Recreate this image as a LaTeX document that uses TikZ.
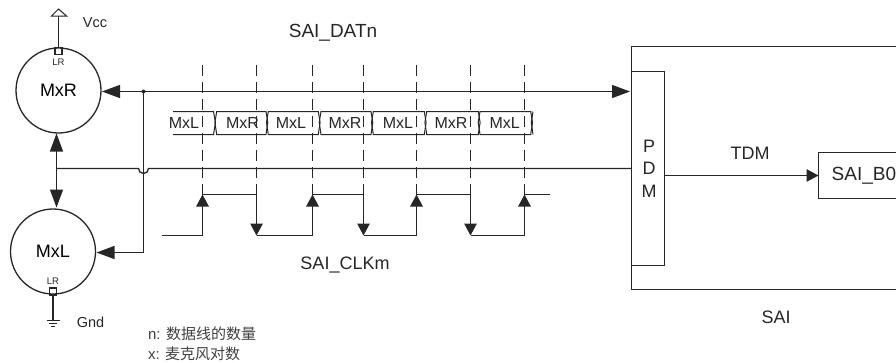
\documentclass[tikz,border=0pt]{standalone}
\usepackage{fontspec}
\setmainfont{Liberation Sans}
\newfontfamily\cjk{Noto Sans CJK SC}
\usetikzlibrary{arrows.meta}
\newcommand{\fs}[1]{\fontsize{#1}{#1}\selectfont}
\tikzset{
  x=1pt,y=-1pt,
  every node/.style={inner sep=0pt,outer sep=0pt},
  wire/.style={draw=black!85,line width=1.3pt},
  big/.style={-{Triangle[length=18pt,width=13pt]}},
  bigboth/.style={{Triangle[length=18pt,width=13pt]}-{Triangle[length=18pt,width=13pt]}},
  small/.style={-{Triangle[length=12pt,width=12.5pt]}},
  mic/.style={circle,draw=black!85,line width=1.3pt,minimum size=85pt,font=\fs{18}},
  pin/.style={rectangle,draw=black!85,line width=1.1pt,minimum width=7pt,minimum height=7pt},
  lbl/.style={font=\fs{18},text=black!85},
  lblw/.style={font=\fs{19},text=black!85},
  cell/.style={font=\fs{16},text=black!85},
  tiny/.style={font=\fs{9.5},text=black!85},
  pow/.style={font=\fs{14.5},text=black!85},
  note/.style={font=\fs{15},text=black!75,anchor=west},
  strobe/.style={draw=black!85,line width=1.3pt,dash pattern=on 11pt off 6pt},
}
\begin{document}
\begin{tikzpicture}
\useasboundingbox (0,0) rectangle (896,362);
% microphones
\node[mic] (mxr) at (58.5,90.5) {MxR};
\node[mic] (mxl) at (53,251.5) {MxL};
\node[pin] (pr) at (58.5,51) {};
\node[pin] (pl) at (53,291.5) {};
\node[tiny] (lrr) at (58.5,62) {LR};
\node[tiny] (lrl) at (53,281.5) {LR};
% Vcc and Gnd
\coordinate (vcc) at (58.5,16);
\draw[wire] (pr.north) -- (vcc);
\draw[wire,fill=white,line width=1pt] (51.5,16) -- (58.5,9) -- (66.5,16) -- cycle;
\node[pow] (vcct) at (95,23) {Vcc};
\coordinate (gnd) at (53,320);
\draw[wire] (pl.south) -- (gnd);
\draw[wire,line width=1pt] (46.5,320.5) -- (59.5,320.5) (49,323.5) -- (57,323.5) (51,326.5) -- (55,326.5);
\node[pow] (gndt) at (90.5,322) {Gnd};
% SAI
\draw[wire] (900,46.5) -- (631.5,46.5) -- (631.5,289.5) -- (900,289.5);
\node[rectangle,draw=black!85,line width=1.3pt,minimum width=33pt,minimum height=194pt,anchor=north west] (pdm) at (631.5,71.5) {};
\node[rectangle,draw=black!85,line width=1.3pt,minimum width=90pt,minimum height=46pt,anchor=west] (b0) at (818.5,175.5) {};
\node[lblw,anchor=west] (b0t) at (831.7,175.3) {SAI\_B0};
\node[lbl] (p1) at (649,146) {P};
\node[lbl] (p2) at (649,168.5) {D};
\node[lbl] (p3) at (649,191) {M};
\node[lbl] (tdm) at (750,153.5) {TDM};
\node[lbl] (sai) at (776,317) {SAI};
\node[lblw] (dat) at (333,32.5) {SAI\_DATn};
\node[lbl] (clk) at (345,265) {SAI\_CLKm};
\draw[wire,small] (pdm.east |- b0.west) -- (b0.west);
% data line
\coordinate (j) at (143.5,91.5);
\coordinate (pdmin) at (630,91.5);
\coordinate (mxrin) at (102,91.5);
\draw[wire,bigboth] (mxrin) -- (pdmin);
\fill[black!85] (j) circle (2pt);
\coordinate (mxlin) at (96.5,252.5);
\draw[wire,big] (j) -- (143.5,252.5) -- (mxlin);
% common line with hop
\coordinate (h) at (56.5,168.5);
\draw[wire] (h) -- (138.5,168.5) arc[start angle=180,end angle=0,radius=5] -- (pdm.west |- h);
\coordinate (up) at (56.5,133.5);
\coordinate (dn) at (56.5,207.5);
\draw[wire,big] (h) -- (up);
\draw[wire,big] (h) -- (dn);
% strobes
\foreach \i/\x in {1/202.5,2/256.5,3/312.5,4/363.5,5/416.5,6/470.5,7/524.5}{
  \coordinate (st\i) at (\x,65);
  \coordinate (sb\i) at (\x,194.5);
  \draw[strobe] (st\i) -- (sb\i);
}
% clock
\coordinate (c0) at (162,235.5);
\foreach \i/\x in {1/202.5,2/256.5,3/312.5,4/363.5,5/416.5,6/470.5,7/524.5}{
  \coordinate (c\i) at (\x,235.5);
}
\coordinate (c8) at (550,194.5);
\draw[wire] (c0) -- (c1);
\draw[wire] (c2) -- (c3);
\draw[wire] (c4) -- (c5);
\draw[wire] (c6) -- (c7);
\draw[wire] (sb1) -- (sb2);
\draw[wire] (sb3) -- (sb4);
\draw[wire] (sb5) -- (sb6);
\draw[wire] (sb7) -- (c8);
\foreach \i in {1,3,5,7}{\draw[wire,small] (c\i) -- (sb\i);}
\foreach \i in {2,4,6}{\draw[wire,small] (sb\i) -- (c\i);}
% data cells
\draw[wire,line width=1pt] (173,111.5) -- (213.5,111.5) -- (215.5,122.5) -- (213.5,134.5) -- (173,134.5);
\foreach \l/\r in {216.7/266,268.3/318.3,321/371,373.3/424.3,426.7/478.3,480/530.7}{
  \draw[wire,line width=1pt] (\l,111.5) -- (\r,111.5) -- (\r+1.8,122.5) -- (\r,134.5) -- (\l,134.5) -- (\l-1.8,122.5) -- cycle;
}
\draw[wire,line width=1pt] (533,111.5) -- (531.3,122.5) -- (533,134.5);
\foreach \i/\x/\t in {1/184/MxL,2/242.5/MxR,3/291/MxL,4/345/MxR,5/398/MxL,6/451/MxR,7/504.7/MxL}{
  \node[cell] (cell\i) at (\x,122.5) {\t};
}
% notes
\node[note] (n1) at (148,334) {n: {\cjk 数据线的数量}};
\node[note] (n2) at (148,354) {x: {\cjk 麦克风对数}};
\end{tikzpicture}
\end{document}
